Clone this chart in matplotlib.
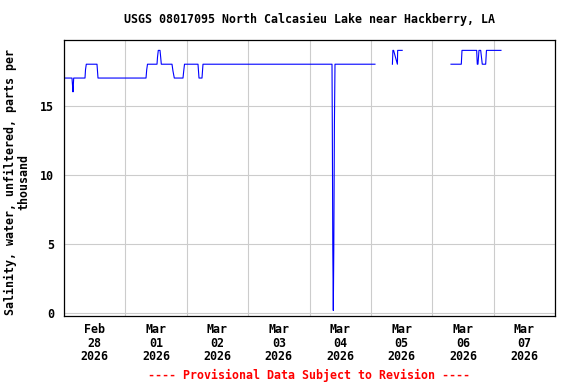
import numpy as np
import pandas as pd
import matplotlib
matplotlib.use('Agg')
import matplotlib.pyplot as plt
import matplotlib.dates as mdates

# hours after 2026-02-28 00:00, salinity (ppt); NaN breaks the line where data are missing
hours = [0.0, 3.13, 3.28, 3.52, 3.79, 8.21, 8.41, 8.72, 12.90, 13.30,
         32.07, 32.34, 32.65, 36.37, 36.56, 36.87, 37.54, 37.81, 38.05,
         42.23, 42.62, 43.13, 46.53, 46.81, 47.12, 52.40, 52.79, 53.96, 54.35,
         104.80, 104.92, 105.11, 105.31, 105.50, 105.74, 105.97, 121.6,
         124.0,
         128.42, 128.61, 128.88, 130.37, 130.48, 132.24,
         140.0,
         151.33, 155.36, 155.63, 161.37, 161.61, 161.88, 162.27, 162.94,
         163.56, 164.89, 165.20, 170.87]
salinity = [17, 17, 16.6, 16.0, 17, 17, 17.6, 18, 18, 17,
            17, 17.6, 18, 18, 18.5, 19, 19, 18.5, 18,
            18, 17.5, 17, 17, 17.5, 18, 18, 17, 17, 18,
            18, 13.6, 4.6, 0.2, 4.6, 13.6, 18, 18,
            np.nan,
            18, 19, 19, 18, 19, 19,
            np.nan,
            18, 18, 19, 19, 18, 18, 19, 19,
            18, 18, 19, 19]

day_labels = ['Feb\n28\n2026', 'Mar\n01\n2026', 'Mar\n02\n2026', 'Mar\n03\n2026',
              'Mar\n04\n2026', 'Mar\n05\n2026', 'Mar\n06\n2026', 'Mar\n07\n2026']
y_ticks = [0, 5, 10, 15]

start = pd.Timestamp('2026-02-28')
t = start + pd.to_timedelta(hours, unit='h')
days = pd.date_range(start, periods=9, freq='D')
noons = days[:-1] + pd.Timedelta(hours=12)

plt.rcParams['font.family'] = ['DejaVu Sans Mono']
plt.rcParams['font.weight'] = 'bold'
fs = 8.4

fig = plt.figure(figsize=(5.76, 3.84), dpi=100)
ax = fig.add_axes([64 / 576, 1 - 316 / 384, 491 / 576, 276 / 384])

ax.plot(t, salinity, color='#0000ff', lw=0.8)

ax.set_xlim(days[0], days[-1])
ax.set_ylim(-0.2, 19.75)

# gridlines at midnight, labels at noon
ax.set_xticks(days)
ax.set_xticklabels([])
ax.set_xticks(noons, minor=True)
ax.set_xticklabels(day_labels, minor=True, fontsize=fs, fontweight='bold', linespacing=1.07)
ax.set_yticks(y_ticks)
ax.set_yticklabels([str(v) for v in y_ticks], fontsize=fs, fontweight='bold')
ax.tick_params(axis='both', which='both', length=0)
ax.tick_params(axis='x', which='minor', pad=5)
ax.tick_params(axis='y', pad=7)
ax.grid(True, which='major', color='#cccccc', lw=0.8)
ax.set_axisbelow(True)
for s in ax.spines.values():
    s.set_linewidth(0.9)
    s.set_color('black')

fig.text(309.5 / 576, 1 - 19 / 384, 'USGS 08017095 North Calcasieu Lake near Hackberry, LA',
         ha='center', va='center', fontsize=fs, fontweight='bold')
fig.text(17 / 576, 1 - 182 / 384, 'Salinity, water, unfiltered, parts per\nthousand',
         ha='center', va='center', rotation=90, fontsize=fs, fontweight='bold',
         multialignment='center', linespacing=1.1)
fig.text(308.5 / 576, 1 - 375 / 384, '---- Provisional Data Subject to Revision ----',
         ha='center', va='center', fontsize=fs, fontweight='bold', color='#ff0000')

fig.savefig('out.png', dpi=100)
plt.close(fig)
